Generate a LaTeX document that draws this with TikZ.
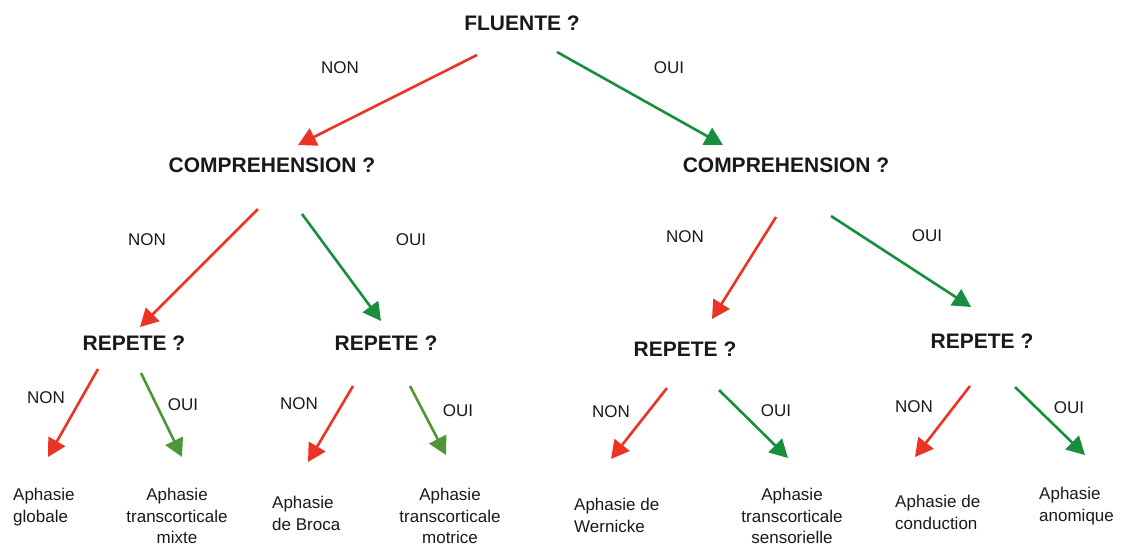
\documentclass[tikz,border=0pt]{standalone}
\usepackage{fontspec}
\setmainfont{Liberation Sans}
\usetikzlibrary{arrows.meta}
\definecolor{nonred}{RGB}{236,52,36}
\definecolor{ouigreen}{RGB}{24,142,62}
\definecolor{ouiolive}{RGB}{78,150,56}
\definecolor{txt}{RGB}{25,25,25}
\tikzset{
  question/.style={inner sep=0pt, text=txt, font=\fontsize{21}{25}\selectfont\bfseries},
  answer/.style={inner sep=0pt, text=txt, font=\fontsize{17}{21}\selectfont},
  leafc/.style={inner sep=0pt, text=txt, align=center, font=\fontsize{17}{21.5}\selectfont},
  leafl/.style={inner sep=0pt, text=txt, align=left, anchor=west, font=\fontsize{17}{22}\selectfont},
  arr/.style={line width=2.6pt, -{Triangle[length=18pt,width=19pt]}},
  nonarrow/.style={arr, draw=nonred, fill=nonred},
  ouiarrow/.style={arr, draw=ouigreen, fill=ouigreen},
  ouiolivearrow/.style={arr, draw=ouiolive, fill=ouiolive}
}
\begin{document}
\begin{tikzpicture}[x=1pt,y=-1pt]
\useasboundingbox (0,0) rectangle (1122,547);
% questions
\node[question] (fluente) at (522,23) {FLUENTE ?};
\node[question] (compL) at (272,165) {COMPREHENSION ?};
\node[question] (compR) at (786,165) {COMPREHENSION ?};
\node[question] (rep1) at (134,343) {REPETE ?};
\node[question] (rep2) at (386,343) {REPETE ?};
\node[question] (rep3) at (685,349) {REPETE ?};
\node[question] (rep4) at (982,341) {REPETE ?};
% answers
\node[answer] (non0) at (340,68) {NON};
\node[answer] (oui0) at (669,68) {OUI};
\node[answer] (non1) at (147,240) {NON};
\node[answer] (oui1) at (411,240) {OUI};
\node[answer] (non2) at (685,237) {NON};
\node[answer] (oui2) at (927,236) {OUI};
\node[answer] (non3) at (46,398) {NON};
\node[answer] (oui3) at (183,405) {OUI};
\node[answer] (non4) at (299,404) {NON};
\node[answer] (oui4) at (458,411) {OUI};
\node[answer] (non5) at (611,412) {NON};
\node[answer] (oui5) at (776,411) {OUI};
\node[answer] (non6) at (914,407) {NON};
\node[answer] (oui6) at (1069,408) {OUI};
% leaves
\node[leafl] (l1) at (13,507) {Aphasie\\globale};
\node[leafc] (l2) at (177,516) {Aphasie\\transcorticale\\mixte};
\node[leafl] (l3) at (272,513) {Aphasie\\de Broca};
\node[leafc] (l4) at (450,516) {Aphasie\\transcorticale\\motrice};
\node[leafl] (l5) at (574,515) {Aphasie de\\Wernicke};
\node[leafc] (l6) at (792,516) {Aphasie\\transcorticale\\sensorielle};
\node[leafl] (l7) at (895,512) {Aphasie de\\conduction};
\node[leafl] (l8) at (1039,506) {Aphasie\\anomique};
% arrow ends
\coordinate (a0s) at (477,55);  \coordinate (a0e) at (298,145);
\coordinate (b0s) at (557,52);  \coordinate (b0e) at (723,145);
\coordinate (a1s) at (258,209); \coordinate (a1e) at (140,327);
\coordinate (b1s) at (302,214); \coordinate (b1e) at (381,321);
\coordinate (a2s) at (776,217); \coordinate (a2e) at (712,319);
\coordinate (b2s) at (831,216); \coordinate (b2e) at (971,307);
\coordinate (a3s) at (98,369);  \coordinate (a3e) at (48,457);
\coordinate (b3s) at (141,373); \coordinate (b3e) at (182,457);
\coordinate (a4s) at (353,386); \coordinate (a4e) at (308,462);
\coordinate (b4s) at (410,386); \coordinate (b4e) at (446,455);
\coordinate (a5s) at (667,388); \coordinate (a5e) at (611,459);
\coordinate (b5s) at (719,390); \coordinate (b5e) at (788,458);
\coordinate (a6s) at (970,386); \coordinate (a6e) at (915,457);
\coordinate (b6s) at (1015,387); \coordinate (b6e) at (1085,455);
% arrows
\draw[nonarrow] (a0s) -- (a0e);
\draw[ouiarrow] (b0s) -- (b0e);
\draw[nonarrow] (a1s) -- (a1e);
\draw[ouiarrow] (b1s) -- (b1e);
\draw[nonarrow] (a2s) -- (a2e);
\draw[ouiarrow] (b2s) -- (b2e);
\draw[nonarrow] (a3s) -- (a3e);
\draw[ouiolivearrow] (b3s) -- (b3e);
\draw[nonarrow] (a4s) -- (a4e);
\draw[ouiolivearrow] (b4s) -- (b4e);
\draw[nonarrow] (a5s) -- (a5e);
\draw[ouiarrow] (b5s) -- (b5e);
\draw[nonarrow] (a6s) -- (a6e);
\draw[ouiarrow] (b6s) -- (b6e);
\end{tikzpicture}
\end{document}
